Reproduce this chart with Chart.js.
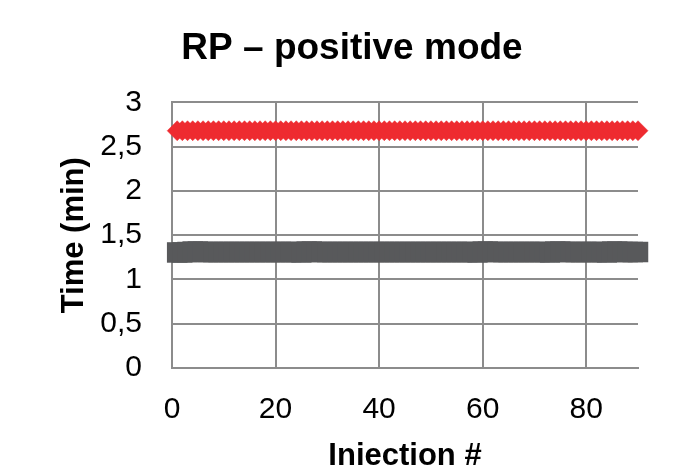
<!DOCTYPE html>
<html>
<head>
<meta charset="utf-8">
<title>RP – positive mode</title>
<script src="https://cdn.jsdelivr.net/npm/chart.js@4.4.1/dist/chart.umd.min.js"></script>
<style>
  html, body { margin: 0; padding: 0; background: #ffffff; }
  #chart { display: block; }
</style>
</head>
<body>
<canvas id="chart" width="677" height="465"></canvas>
<script>
// Retention times per injection, positive-mode RP run
const injections = [];
for (let i = 1; i <= 90; i++) injections.push(i);

const lateTimes = [
  2.68, 2.68, 2.68, 2.68, 2.68, 2.68, 2.68, 2.68, 2.68, 2.68,
  2.68, 2.68, 2.68, 2.68, 2.68, 2.68, 2.68, 2.68, 2.68, 2.68,
  2.68, 2.68, 2.68, 2.68, 2.68, 2.68, 2.68, 2.68, 2.68, 2.68,
  2.68, 2.68, 2.68, 2.68, 2.68, 2.68, 2.68, 2.68, 2.68, 2.68,
  2.68, 2.68, 2.68, 2.68, 2.68, 2.68, 2.68, 2.68, 2.68, 2.68,
  2.68, 2.68, 2.68, 2.68, 2.68, 2.68, 2.68, 2.68, 2.68, 2.68,
  2.68, 2.68, 2.68, 2.68, 2.68, 2.68, 2.68, 2.68, 2.68, 2.68,
  2.68, 2.68, 2.68, 2.68, 2.68, 2.68, 2.68, 2.68, 2.68, 2.68,
  2.68, 2.68, 2.68, 2.68, 2.68, 2.68, 2.68, 2.68, 2.68, 2.68
];

const earlyTimes = [
  1.305, 1.305, 1.31, 1.315, 1.315, 1.31, 1.31, 1.31, 1.31, 1.31,
  1.31, 1.31, 1.31, 1.31, 1.31, 1.31, 1.31, 1.31, 1.31, 1.31,
  1.31, 1.31, 1.31, 1.31, 1.305, 1.315, 1.315, 1.31, 1.31, 1.31,
  1.31, 1.31, 1.31, 1.31, 1.31, 1.31, 1.31, 1.31, 1.31, 1.31,
  1.31, 1.31, 1.31, 1.31, 1.31, 1.31, 1.31, 1.31, 1.31, 1.31,
  1.31, 1.31, 1.31, 1.31, 1.31, 1.31, 1.31, 1.31, 1.305, 1.315,
  1.315, 1.31, 1.31, 1.31, 1.31, 1.31, 1.31, 1.31, 1.31, 1.31,
  1.31, 1.31, 1.305, 1.315, 1.315, 1.31, 1.31, 1.31, 1.31, 1.31,
  1.31, 1.31, 1.31, 1.305, 1.315, 1.315, 1.31, 1.31, 1.31, 1.31
];

const xTicks = [0, 20, 40, 60, 80];
const yTicks = [0, 0.5, 1, 1.5, 2, 2.5, 3];

const toPoints = (xs, ys) => xs.map((x, i) => ({ x, y: ys[i] }));

const gridColor = '#8c8c8c';
const fontFamily = '"Liberation Sans", Arial, sans-serif';

new Chart(document.getElementById('chart'), {
  type: 'scatter',
  data: {
    datasets: [
      {
        label: 'early',
        data: toPoints(injections, earlyTimes),
        pointStyle: 'rect',
        pointRadius: 14.5,
        pointHoverRadius: 14.5,
        backgroundColor: '#58595b',
        borderWidth: 0,
        showLine: false,
        clip: false
      },
      {
        label: 'late',
        data: toPoints(injections, lateTimes),
        pointStyle: 'rectRot',
        pointRadius: 10,
        pointHoverRadius: 10,
        backgroundColor: '#ee2b30',
        borderColor: '#ee2b30',
        borderWidth: 0.5,
        showLine: false,
        clip: false
      }
    ]
  },
  options: {
    responsive: false,
    animation: false,
    events: [],
    layout: { padding: { left: 66, right: 39, top: 0, bottom: 0 } },
    plugins: {
      legend: { display: false },
      tooltip: { enabled: false },
      title: {
        display: true,
        text: 'RP – positive mode',
        color: '#000000',
        font: { family: fontFamily, size: 37, weight: 'bold', lineHeight: 1.2 },
        padding: { top: 27, bottom: 31 }
      }
    },
    scales: {
      x: {
        type: 'linear',
        min: 0,
        max: 90,
        afterFit(scale) { scale.height = 97; },
        afterBuildTicks(scale) { scale.ticks = xTicks.map(v => ({ value: v })); },
        ticks: {
          color: '#000000',
          padding: 24,
          maxRotation: 0,
          font: { family: fontFamily, size: 30 }
        },
        grid: { color: gridColor, lineWidth: 2, drawTicks: false },
        border: { color: gridColor, width: 2 },
        title: {
          display: true,
          text: 'Injection #',
          color: '#000000',
          font: { family: fontFamily, size: 31, weight: 'bold', lineHeight: 1.2 },
          padding: { top: 0, bottom: -10 }
        }
      },
      y: {
        type: 'linear',
        min: 0,
        max: 3,
        afterFit(scale) { scale.width = 106; },
        afterBuildTicks(scale) { scale.ticks = yTicks.map(v => ({ value: v })); },
        ticks: {
          color: '#000000',
          padding: 30,
          font: { family: fontFamily, size: 30 },
          callback: v => String(v).replace('.', ',')
        },
        grid: { color: gridColor, lineWidth: 2, drawTicks: false },
        border: { color: gridColor, width: 2 },
        title: {
          display: true,
          text: 'Time (min)',
          color: '#000000',
          font: { family: fontFamily, size: 31, weight: 'bold', lineHeight: 1.2 },
          padding: { top: -10.6, bottom: 0 }
        }
      }
    }
  }
});
</script>
</body>
</html>
